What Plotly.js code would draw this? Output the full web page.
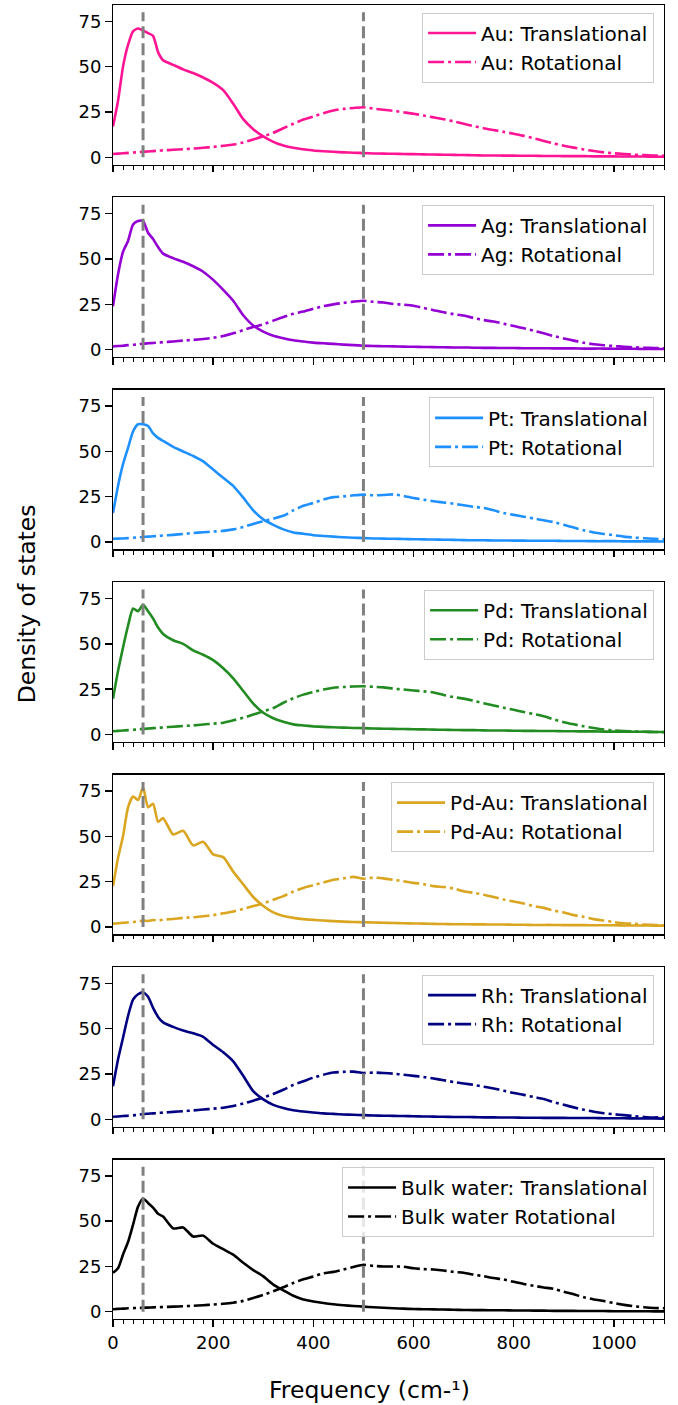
<!DOCTYPE html>
<html><head><meta charset="utf-8">
<script src="https://cdn.plot.ly/plotly-3.0.1.min.js"></script>
<style>html,body{margin:0;padding:0;background:#fff}#chart{width:678px;height:1405px}</style>
</head><body><div id="chart"></div>
<script>
// Frequency grid (cm-1)
const frequency = [0,10,20,30,40,50,60,70,80,90,100,
  120,140,160,180,200,220,240,260,280,300,
  320,340,360,380,400,420,440,460,480,500,
  520,540,560,580,600,620,640,660,680,700,
  720,740,760,780,800,820,840,860,880,900,
  920,940,960,980,1000,1020,1040,1060,1080,1100];

const auTranslational = [17,31,50,62,69.5,71,70,68.5,67,58,53.5, 51,48.5,46.5,44,41,37,29.5,21,15.5,11.5, 8.5,6.5,5.2,4.4,3.7,3.3,3.0,2.7,2.5,2.3, 2.1,2.0,1.9,1.8,1.7,1.6,1.5,1.4,1.3,1.2, 1.1,1.0,1.0,0.9,0.9,0.8,0.8,0.7,0.7,0.6, 0.6,0.6,0.5,0.5,0.5,0.4,0.4,0.4,0.3,0.3];
const auRotational = [1.8,2.0,2.2,2.4,2.6,2.8,3.0,3.2,3.4,3.6,3.8, 4.1,4.4,4.8,5.2,5.7,6.3,7.0,8.2,9.8,11.5, 13.5,16,18.5,20.8,22.5,24.3,25.8,26.7,27.2,27.6, 26.8,26.2,25.6,24.8,24.0,23.0,22.0,21.0,19.8,18.5, 17.2,16.0,15.0,14.0,13.0,11.8,10.5,9.0,7.6,6.4, 5.3,4.3,3.4,2.7,2.2,1.8,1.4,1.2,1.0,0.8];

const agTranslational = [24,41.5,54,60,69,71,71,64.5,61,56.6,53, 50.5,48.5,46,43,38.5,33,27,19,13.3,10, 7.7,6.3,5.2,4.5,3.9,3.5,3.2,2.8,2.5,2.2, 2.0,1.9,1.8,1.7,1.6,1.5,1.4,1.3,1.2,1.2, 1.1,1.0,1.0,0.9,0.9,0.8,0.8,0.8,0.7,0.7, 0.7,0.6,0.6,0.6,0.5,0.5,0.5,0.4,0.4,0.4];
const agRotational = [1.8,2.0,2.2,2.5,2.7,3.0,3.3,3.5,3.7,3.9,4.1, 4.5,5.0,5.4,5.9,6.5,7.5,9.0,10.8,12.5,14.0, 16.0,18.0,19.8,21.0,22.6,24.0,25.0,25.8,26.5,27.0, 26.4,26.0,25.2,24.8,24.2,23.0,21.8,20.6,19.6,18.8, 17.5,16.3,15.5,14.3,13.0,11.8,10.4,9.0,7.5,6.2, 5.0,3.8,3.0,2.4,2.0,1.6,1.3,1.1,0.9,0.8];

const ptTranslational = [16,31,43,52,61,65,65,64,60,57.5,55.8, 52.5,50,47.5,44.5,40,35.5,31,24.5,17.5,12.5, 9.5,7,5.3,4.6,3.8,3.4,3.0,2.7,2.4,2.2, 2.0,1.9,1.8,1.7,1.6,1.5,1.4,1.3,1.2,1.1, 1.0,1.0,0.9,0.9,0.8,0.8,0.7,0.7,0.7,0.6, 0.6,0.6,0.5,0.5,0.5,0.4,0.4,0.4,0.4,0.3];
const ptRotational = [1.8,1.9,2.0,2.2,2.4,2.6,2.8,3.0,3.2,3.4,3.6, 4.0,4.5,5.0,5.4,5.8,6.2,7.0,8.3,10.0,11.5, 13.0,14.5,17.5,20.0,21.6,23.5,24.8,25.2,25.8,26.2, 25.8,26.0,26.3,25.5,24.3,23.4,22.5,21.8,21.2,20.3, 19.5,18.8,17.5,16.0,15.0,14.0,13.0,12.0,11.0,9.5, 8.0,6.5,5.3,4.5,3.8,3.0,2.5,2.1,1.8,1.6];

const pdTranslational = [19.7,35,48,60,69.5,68,71.5,68,64,59,55.5, 52,50,46.4,44,41,36.5,31,24,17,12, 9,7,5.6,5.0,4.5,4.2,4.0,3.8,3.6,3.5, 3.3,3.2,3.1,3.0,2.9,2.8,2.7,2.6,2.5,2.4, 2.4,2.3,2.2,2.2,2.1,2.0,2.0,1.9,1.9,1.8, 1.8,1.7,1.7,1.6,1.6,1.5,1.5,1.5,1.4,1.4];
const pdRotational = [1.8,2.0,2.2,2.4,2.6,2.8,3.1,3.3,3.5,3.7,3.9, 4.3,4.7,5.0,5.5,6.0,6.5,7.8,9.2,11.0,12.8, 14.6,17.5,20.0,22.0,23.5,24.8,25.8,26.2,26.5,26.6, 26.3,26.0,25.3,24.8,24.3,23.8,23.2,21.8,20.6,19.8, 18.6,17.2,16.0,14.8,13.6,12.4,11.3,10.0,8.3,6.8, 5.6,4.5,3.6,2.8,2.2,1.9,1.7,1.5,1.4,1.3];

const pdauTranslational = [22.5,38,50,66,72,70,77,66,68,58,60, 51,53,45,47,40,38.5,30.5,23.5,16.5,11.5, 8,6,5,4.3,3.9,3.5,3.2,2.9,2.7,2.6, 2.4,2.3,2.2,2.0,1.9,1.8,1.7,1.6,1.5,1.5, 1.4,1.4,1.3,1.3,1.2,1.2,1.1,1.1,1.1,1.0, 1.0,1.0,0.9,0.9,0.9,0.8,0.8,0.8,0.7,0.7];
const pdauRotational = [1.8,2.0,2.3,2.5,2.7,3.0,3.5,3.3,3.8,3.6,4.0, 4.4,5.0,5.3,5.9,6.5,7.5,8.5,10.0,11.5,13.0, 15.0,17.0,19.5,21.5,23.0,24.5,26.0,26.8,27.6,26.6, 27.2,26.8,26.0,25.2,24.3,23.6,22.5,22.0,21.2,19.7, 18.8,17.8,16.5,15.1,14.0,12.9,11.5,10.5,9.0,8.0, 6.5,5.5,4.3,3.5,2.7,2.0,1.7,1.3,1.1,0.9];

const rhTranslational = [18.2,33,45,57,66,69,70,67.6,61.5,56.5,53.5, 51,49,47.5,45.5,41,37,32,24,15.5,11, 8,6.2,5.0,4.3,3.8,3.3,3.0,2.7,2.5,2.3, 2.1,2.0,1.9,1.8,1.7,1.6,1.5,1.4,1.3,1.3, 1.2,1.1,1.1,1.0,1.0,0.9,0.9,0.8,0.8,0.8, 0.7,0.7,0.7,0.6,0.6,0.6,0.5,0.5,0.5,0.4];
const rhRotational = [1.4,1.6,1.8,2.0,2.2,2.5,2.9,3.1,3.3,3.5,3.7, 4.1,4.5,4.9,5.4,5.9,6.4,7.4,8.7,10.3,12.0, 14.0,16.3,19.0,21.0,23.0,24.6,25.8,26.2,26.3,25.6, 25.8,25.6,25.2,24.6,24.0,23.4,22.5,21.6,20.6,19.8, 19.0,18.0,17.0,15.8,14.5,13.5,12.3,11.2,9.5,8.0, 6.6,5.3,4.2,3.4,2.8,2.3,1.8,1.3,1.0,1.2];

const bulkTranslational = [21.5,24,31.6,38.5,48,58,62.5,60,57.5,54,52.5, 46,46.5,41.5,42,37.5,34.5,31.5,27,23,19.5, 15,11.8,8.8,6.8,5.7,4.8,4.1,3.6,3.2,2.8, 2.5,2.2,1.9,1.7,1.5,1.4,1.3,1.2,1.1,1.0, 0.9,0.9,0.8,0.8,0.7,0.7,0.6,0.6,0.5,0.5, 0.5,0.4,0.4,0.4,0.3,0.3,0.3,0.3,0.2,0.2];
const bulkRotational = [1.4,1.6,1.7,1.9,2.0,2.1,2.2,2.3,2.4,2.5,2.6, 2.8,3.0,3.3,3.6,4.0,4.4,5.0,6.0,7.6,9.3, 11.3,13.5,15.9,17.9,19.5,21.2,22.0,23.3,24.7,25.9, 25.3,25.0,25.0,24.8,24.0,23.5,23.3,22.8,22.0,21.5, 20.5,19.6,18.6,17.8,16.5,15.3,14.3,13.4,12.6,11.0, 9.6,8.0,6.8,5.9,4.8,3.8,3.0,2.5,2.1,1.9];

const translationalSeries = [auTranslational, agTranslational, ptTranslational, pdTranslational, pdauTranslational, rhTranslational, bulkTranslational];
const rotationalSeries = [auRotational, agRotational, ptRotational, pdRotational, pdauRotational, rhRotational, bulkRotational];
const translationalLabels = ["Au: Translational","Ag: Translational","Pt: Translational","Pd: Translational","Pd-Au: Translational","Rh: Translational","Bulk water: Translational"];
const rotationalLabels = ["Au: Rotational","Ag: Rotational","Pt: Rotational","Pd: Rotational","Pd-Au: Rotational","Rh: Rotational","Bulk water Rotational"];
const colors = ["#ff1493","#9400d3","#1e90ff","#228b22","#daa520","#000080","#000000"];

const vlineFreq = [60, 500];
const vlineSpan = [0, 80];

const FONT = "DejaVu Sans";
const nPanels = 7;
const plotTop = 5, plotBottom = 86, figH = 1405;
const plotH = figH - plotTop - plotBottom;
const panelH = 159.5;
const step = (plotH - panelH) / (nPanels - 1);

const traces = [];
const layout = {
  width: 678, height: 1405,
  margin: {l: 113, r: 14, t: plotTop, b: plotBottom, pad: 0},
  paper_bgcolor: "#fff", plot_bgcolor: "#fff",
  font: {family: FONT, color: "#000", size: 18},
  showlegend: true,
  annotations: [
    {text: "Density of states", xref: "paper", yref: "paper", x: -0.156, y: 0.544,
     xanchor: "center", yanchor: "middle", textangle: -90, showarrow: false,
     font: {family: FONT, size: 23.5, color: "#000"}},
    {text: "Frequency (cm-¹)", xref: "paper", yref: "paper", x: 0.466, y: -0.054,
     xanchor: "center", yanchor: "middle", showarrow: false,
     font: {family: FONT, size: 23.5, color: "#000"}}
  ]
};

for (let i = 0; i < nPanels; i++) {
  const s = i === 0 ? "" : String(i + 1);
  const legendKey = i === 0 ? "legend" : "legend" + (i + 1);
  const topPx = i * step;
  const top = 1 - topPx / plotH;
  const bottom = 1 - (topPx + panelH) / plotH;

  traces.push({x: frequency, y: translationalSeries[i], type: "scatter", mode: "lines",
    name: translationalLabels[i], xaxis: "x" + s, yaxis: "y" + s, legend: legendKey,
    legendgroup: "t" + i,
    line: {color: colors[i], width: 2.6, shape: "spline", smoothing: 0.6}});
  traces.push({x: frequency, y: rotationalSeries[i], type: "scatter", mode: "lines",
    name: rotationalLabels[i], xaxis: "x" + s, yaxis: "y" + s, legend: legendKey,
    legendgroup: "r" + i,
    line: {color: colors[i], width: 2.6, dash: "16px,4px,3px,4px", shape: "spline", smoothing: 0.6}});
  for (const f of vlineFreq) {
    traces.push({x: [f, f], y: vlineSpan, type: "scatter", mode: "lines", showlegend: false,
      hoverinfo: "skip", xaxis: "x" + s, yaxis: "y" + s,
      line: {color: "#808080", width: 3, dash: "12px,5px"}});
  }

  const xa = {
    domain: [0, 1], anchor: "y" + s, range: [0, 1100],
    tickmode: "linear", tick0: 0, dtick: 200,
    ticks: "outside", ticklen: 6.5, tickwidth: 1.4, tickcolor: "#000",
    showline: true, mirror: true, linecolor: "#000", linewidth: 1.4,
    showgrid: false, zeroline: false, showticklabels: i === nPanels - 1,
    tickfont: {family: FONT, size: 18, color: "#000"},
    minor: {tickmode: "linear", tick0: 0, dtick: 20, ticks: "outside", ticklen: 3.8, tickwidth: 1, tickcolor: "#000", showgrid: false}
  };
  if (i > 0) xa.matches = "x";
  layout["xaxis" + s] = xa;
  layout["yaxis" + s] = {
    domain: [bottom, top], anchor: "x" + s, range: [-4, 84],
    tickmode: "linear", tick0: 0, dtick: 25,
    ticks: "outside", ticklen: 6.5, tickwidth: 1.4, tickcolor: "#000",
    showline: true, mirror: true, linecolor: "#000", linewidth: 1.4,
    showgrid: false, zeroline: false,
    tickfont: {family: FONT, size: 18, color: "#000"}
  };
  layout[legendKey] = {
    x: 0.982, xanchor: "right", y: 1 - (7.5 + topPx) / plotH, yanchor: "top",
    bgcolor: "rgba(255,255,255,0.8)", bordercolor: "#cccccc", borderwidth: 1,
    font: {family: FONT, size: 20, color: "#000"},
    traceorder: "grouped", tracegroupgap: 0, itemwidth: 48
  };
}

Plotly.newPlot("chart", traces, layout, {displayModeBar: false, staticPlot: true});
</script>
</body></html>
